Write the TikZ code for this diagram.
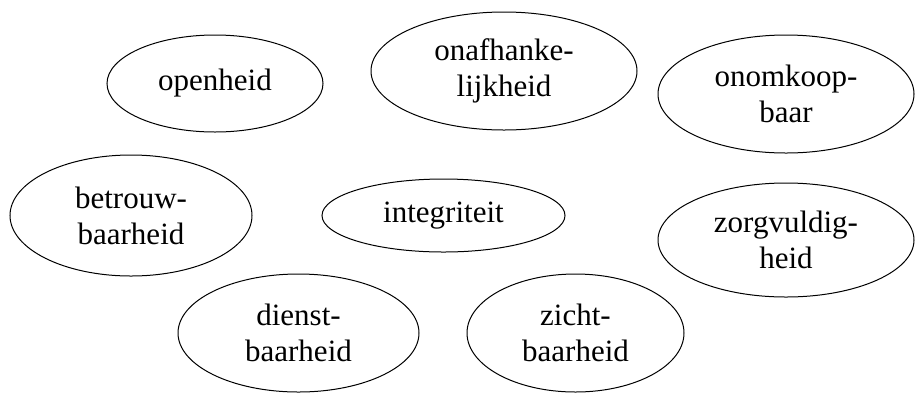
\documentclass[tikz,border=0pt]{standalone}
\usepackage{fontspec}
\setmainfont{Liberation Serif}
\usetikzlibrary{shapes.geometric}
\tikzset{
  value/.style 2 args={ellipse, draw, line width=1pt, inner sep=0pt,
    minimum width=#1, minimum height=#2, align=center,
    font=\fontsize{31}{36}\selectfont},
}
\begin{document}
\begin{tikzpicture}[x=1pt,y=-1pt]
\useasboundingbox (0,0) rectangle (915,392);
\node[value={216pt}{97pt}] (open) at (215,83.5) {openheid};
\node[value={266pt}{118pt}] (onaf) at (504,71) {onafhanke-\\lijkheid};
\node[value={256pt}{118pt}] (onom) at (786,94) {onomkoop-\\baar};
\node[value={242pt}{121pt}] (betr) at (131,215.5) {betrouw-\\baarheid};
\node[value={243pt}{73pt}] (integ) at (443.5,215.5) {integriteit};
\node[value={256pt}{114pt}] (zorg) at (786,240) {zorgvuldig-\\heid};
\node[value={241pt}{118pt}] (dienst) at (298.5,333) {dienst-\\baarheid};
\node[value={217pt}{118pt}] (zicht) at (575.5,333) {zicht-\\baarheid};
\end{tikzpicture}
\end{document}
